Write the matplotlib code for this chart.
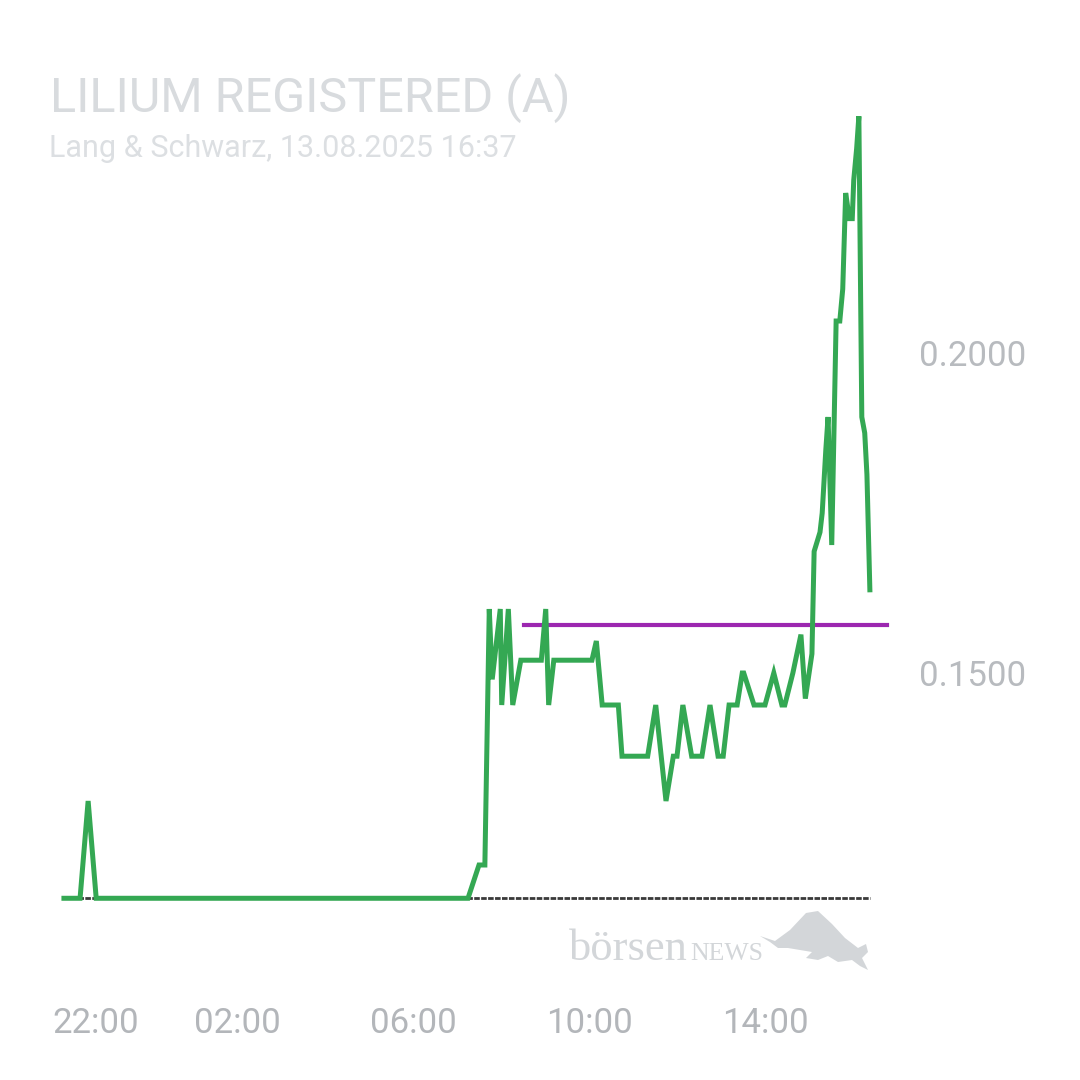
import numpy as np
import matplotlib.pyplot as plt
from matplotlib.patches import Polygon
import matplotlib.transforms as mtransforms

plt.rcParams["font.family"] = ["Roboto", "DejaVu Sans"]

# intraday quotes, times as "HH:MM" (evening before and trading day)
times = ["22:04", "22:26", "22:37", "22:48", "07:15", "07:30", "07:38", "07:44",
         "07:48", "07:59", "08:01", "08:10", "08:16", "08:27", "08:55", "09:01",
         "09:05", "09:12", "10:04", "10:10", "10:18", "10:40", "10:45", "11:20",
         "11:31", "11:45", "11:55", "12:00", "12:08", "12:20", "12:34", "12:45",
         "12:56", "13:03", "13:11", "13:22", "13:29", "13:31", "13:45", "14:00",
         "14:12", "14:23", "14:27", "14:38", "14:49", "14:55", "15:04", "15:07",
         "15:15", "15:18", "15:23", "15:26", "15:31", "15:37", "15:42", "15:46",
         "15:50", "15:55", "15:59", "16:01", "16:05", "16:08", "16:12", "16:16",
         "16:19", "16:23"]
prices = [0.1148, 0.1148, 0.130, 0.1148, 0.1148, 0.120, 0.120, 0.160,
          0.149, 0.160, 0.145, 0.160, 0.145, 0.152, 0.152, 0.160,
          0.145, 0.152, 0.152, 0.155, 0.145, 0.145, 0.137, 0.137,
          0.145, 0.130, 0.137, 0.137, 0.145, 0.137, 0.137, 0.145,
          0.137, 0.137, 0.145, 0.145, 0.150, 0.150, 0.145, 0.145,
          0.150, 0.145, 0.145, 0.150, 0.156, 0.146, 0.153, 0.169,
          0.172, 0.175, 0.185, 0.190, 0.170, 0.205, 0.205, 0.210,
          0.225, 0.221, 0.221, 0.227, 0.232, 0.237, 0.190, 0.1875,
          0.181, 0.163]

ref_times = ["08:31", "16:46"]   # previous close line
ref_price = 0.1575
base_price = 0.1148
xtick_labels = ["22:00", "02:00", "06:00", "10:00", "14:00"]
ytick_values = [0.15, 0.20]


def hours(t):
    h, m = map(int, t.split(":"))
    v = h + m / 60 - 22
    return v if v >= 0 else v + 24


x = np.array([hours(t) for t in times])
y = np.array(prices)

fig = plt.figure(figsize=(10.8, 10.8), dpi=100)
ax = fig.add_axes([0, 95 / 1080, 905 / 1080, 985 / 1080])

ax.plot([x[0], x[-1]], [base_price, base_price], color="#3a3a3a", lw=2.0,
        ls=(0, (2, 0.5)), zorder=1)
ax.plot(x, y, color="#34a853", lw=3.6, zorder=3, solid_joinstyle="miter")
ax.plot([hours(t) for t in ref_times], [ref_price, ref_price], color="#9c27b0",
        lw=3.0, zorder=2)

ax.set_xlim(-61 / 44, (905 - 61) / 44)
ax.set_ylim(0.10125, 0.25516)

for s in ax.spines.values():
    s.set_visible(False)

ax.set_xticks([hours(t) for t in xtick_labels])
ax.set_xticklabels(xtick_labels)
ax.tick_params(axis="x", length=0, pad=16, labelsize=25, labelcolor="#b3b6ba")
# first label is pushed inside the figure
lab0 = ax.get_xticklabels()[0]
lab0.set_transform(lab0.get_transform() + mtransforms.ScaledTranslation(35 / 100, 0, fig.dpi_scale_trans))

ax.yaxis.tick_right()
ax.set_yticks(ytick_values)
ax.set_yticklabels([f"{v:.4f}" for v in ytick_values])
ax.tick_params(axis="y", length=0, pad=10, labelsize=25, labelcolor="#b8bbbf")

fig.text(50 / 1080, 1 - 112 / 1080, "LILIUM REGISTERED (A)", fontsize=35,
         color="#d8dbde", ha="left", va="baseline")
fig.text(49 / 1080, 1 - 157 / 1080, "Lang & Schwarz, 13.08.2025 16:37",
         fontsize=22, color="#dcdfe2", ha="left", va="baseline")

# watermark
fig.text(569 / 1080, 1 - 960 / 1080, "börsen", fontsize=32, color="#d3d6d9",
         family="Liberation Serif", ha="left", va="baseline")
fig.text(690 / 1080, 1 - 960 / 1080, "NEWS", fontsize=18.5, color="#d3d6d9",
         family="Liberation Serif", ha="left", va="baseline")
bull = [(760, 936), (775, 941), (790, 930), (806, 913), (818, 911), (832, 924),
        (845, 938), (858, 948), (866, 944), (868, 952), (862, 958), (868, 970),
        (860, 966), (852, 960), (838, 962), (828, 956), (818, 960), (806, 958),
        (812, 952), (800, 950), (788, 948), (778, 948), (770, 942)]
bull = [(px / 1080, 1 - py / 1080) for px, py in bull]
fig.patches.append(Polygon(bull, closed=True, transform=fig.transFigure,
                           facecolor="#d3d6d9", edgecolor="none"))

fig.savefig("out.png", dpi=100)
